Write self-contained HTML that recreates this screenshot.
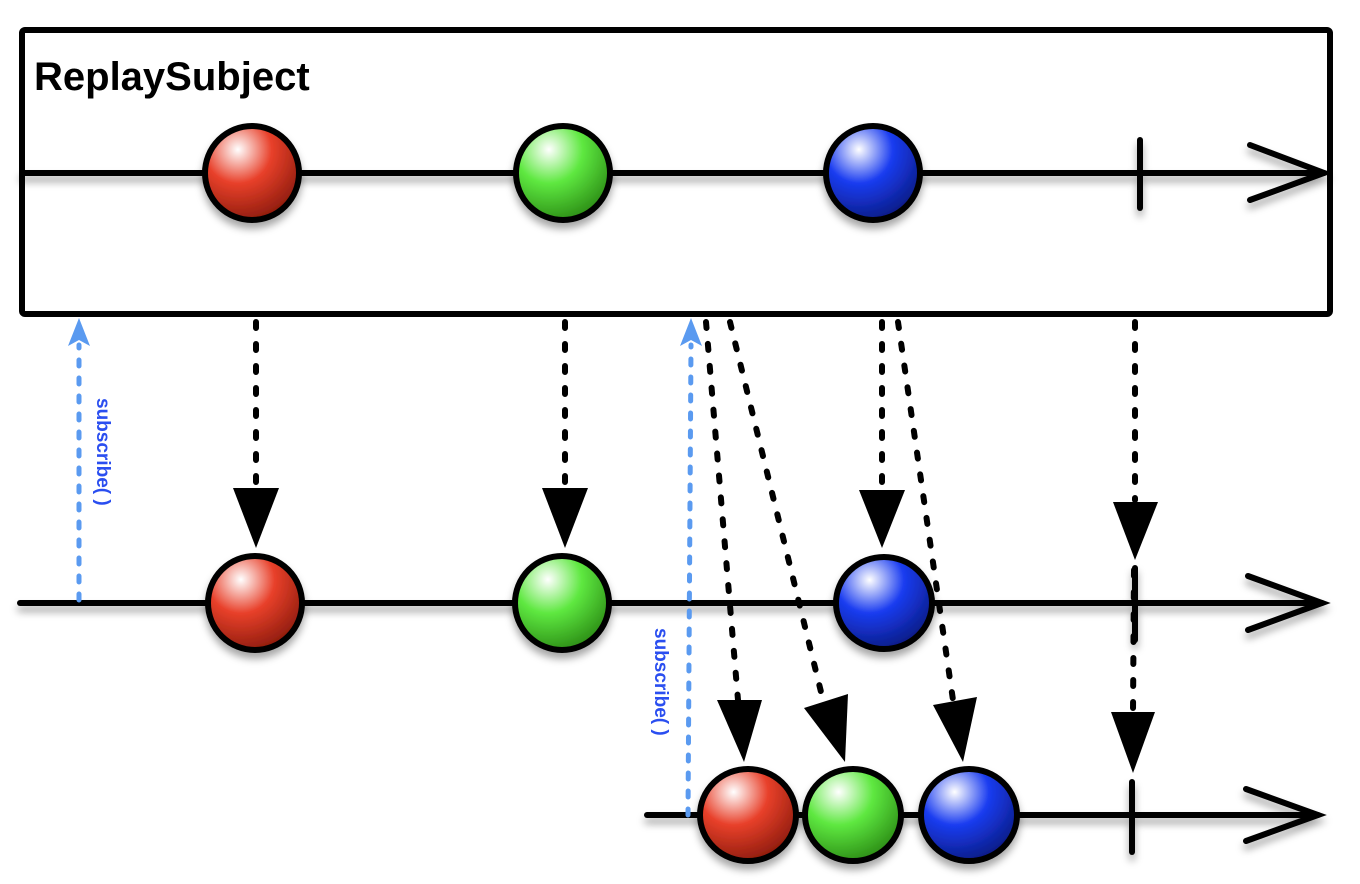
<!DOCTYPE html>
<html><head><meta charset="utf-8"><style>html,body{margin:0;padding:0;background:#fff}svg{display:block}</style></head>
<body>
<svg width="1360" height="884" viewBox="0 0 1360 884" xmlns="http://www.w3.org/2000/svg">
<defs>
<radialGradient id="gr" cx="0.35" cy="0.25" r="0.8"><stop offset="0" stop-color="#fff"/><stop offset="0.45" stop-color="#e8402a"/><stop offset="1" stop-color="#8a1a0c"/></radialGradient>
<radialGradient id="gg" cx="0.35" cy="0.25" r="0.8"><stop offset="0" stop-color="#fff"/><stop offset="0.45" stop-color="#5ee840"/><stop offset="1" stop-color="#2a8a14"/></radialGradient>
<radialGradient id="gb" cx="0.35" cy="0.25" r="0.8"><stop offset="0" stop-color="#fff"/><stop offset="0.45" stop-color="#1a3cf0"/><stop offset="1" stop-color="#0a1a80"/></radialGradient>
<filter id="sh" x="-20%" y="-20%" width="140%" height="160%"><feDropShadow dx="0" dy="6" stdDeviation="4" flood-color="#000" flood-opacity="0.35"/></filter>
</defs>
<rect x="22" y="30" width="1308" height="284" fill="none" stroke="#000" stroke-width="6" rx="3"/>
<text x="34" y="90" font-family="Liberation Sans, sans-serif" font-weight="bold" font-size="40" fill="#000">ReplaySubject</text>

<g stroke="#000" stroke-width="6" fill="none" stroke-linecap="round" filter="url(#sh)">
<line x1="22" y1="173" x2="1324" y2="173"/>
<polyline points="1250,145 1324,173 1250,200"/>
<line x1="1140" y1="140" x2="1140" y2="208"/>
<line x1="20" y1="603" x2="1322" y2="603"/>
<polyline points="1248,576 1322,603 1248,630"/>
<line x1="1135" y1="568" x2="1135" y2="640"/>
<line x1="647" y1="815" x2="1318" y2="815"/>
<polyline points="1246,789 1318,815 1246,841"/>
<line x1="1132" y1="782" x2="1132" y2="852"/>
</g>

<g stroke="#000" stroke-width="6" fill="none" stroke-linecap="round" stroke-dasharray="6 16">
<line x1="256" y1="322" x2="256" y2="488"/>
<line x1="565" y1="322" x2="565" y2="488"/>
<line x1="882" y1="322" x2="882" y2="488"/>
<line x1="1135" y1="322" x2="1135" y2="500"/>
<line x1="1134" y1="570" x2="1133" y2="712"/>
<line x1="706" y1="322" x2="738" y2="700"/>
<line x1="730" y1="322" x2="823" y2="700"/>
<line x1="898" y1="322" x2="953" y2="700"/>
</g>
<g fill="#000">
<polygon points="233,488 279,488 256,548"/>
<polygon points="542,488 588,488 565,548"/>
<polygon points="859,490 905,490 882,548"/>
<polygon points="1113,502 1158,502 1135,560"/>
<polygon points="1111,712 1155,712 1133,773"/>
<polygon points="717,700 762,700 744,762"/>
<polygon points="804,708 848,694 845,762"/>
<polygon points="933,705 977,697 963,762"/>
</g>

<g stroke="#5a9af0" stroke-width="5" stroke-linecap="round" stroke-dasharray="6 12" fill="none">
<line x1="79" y1="600" x2="79" y2="345"/>
<line x1="688" y1="815" x2="691" y2="345"/>
</g>
<polygon points="68,346 79,318 90,346 79,340" fill="#5a9af0"/>
<polygon points="680,346 691,318 702,346 691,340" fill="#5a9af0"/>
<text transform="translate(97,398) rotate(90)" font-family="Liberation Sans, sans-serif" font-weight="bold" font-size="19" fill="#2a4ef0">subscribe( )</text>
<text transform="translate(655,628) rotate(90)" font-family="Liberation Sans, sans-serif" font-weight="bold" font-size="19" fill="#2a4ef0">subscribe( )</text>

<g stroke="#000" stroke-width="6" filter="url(#sh)">
<circle cx="252" cy="173" r="47" fill="url(#gr)"/>
<circle cx="563" cy="173" r="47" fill="url(#gg)"/>
<circle cx="873" cy="173" r="47" fill="url(#gb)"/>
<circle cx="255" cy="603" r="47" fill="url(#gr)"/>
<circle cx="562" cy="603" r="47" fill="url(#gg)"/>
<ellipse cx="884" cy="603" rx="48" ry="46" fill="url(#gb)"/>
<ellipse cx="748" cy="815" rx="48" ry="46" fill="url(#gr)"/>
<ellipse cx="853" cy="815" rx="48" ry="46" fill="url(#gg)"/>
<ellipse cx="969" cy="815" rx="48" ry="46" fill="url(#gb)"/>
</g>
</svg>
</body></html>
